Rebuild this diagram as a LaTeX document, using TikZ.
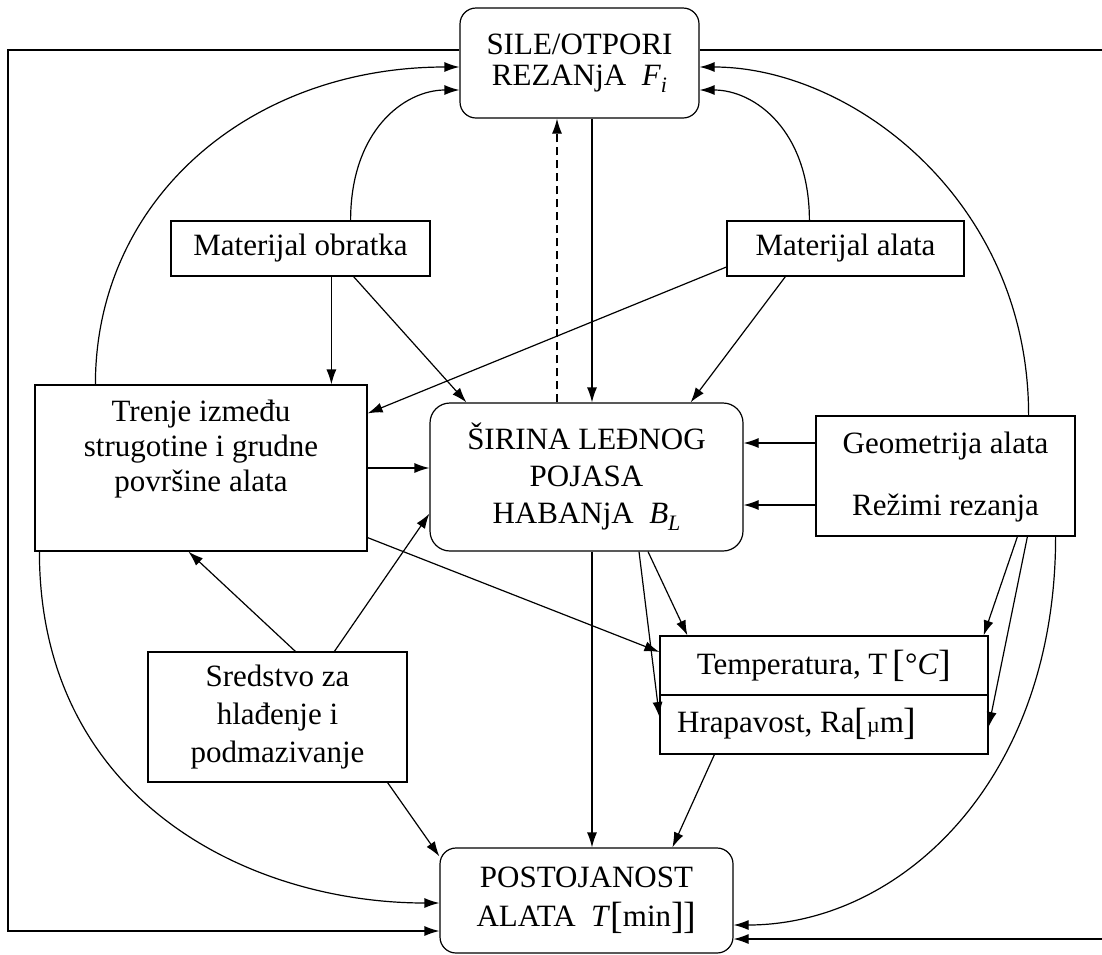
\documentclass[tikz,border=0pt]{standalone}
\usepackage{fontspec}
\setmainfont{Liberation Serif}
\usetikzlibrary{arrows.meta,calc}
\newcommand{\mysub}[1]{\raisebox{-7pt}{\fontsize{22}{22}\selectfont\textit{#1}}}
\newcommand{\bbr}[1]{\raisebox{-2pt}{\fontsize{38}{38}\selectfont #1}}
\begin{document}
\begin{tikzpicture}[x=1pt,y=-1pt,
  box/.style={draw, line width=1.2pt, inner sep=0pt, align=center, font=\fontsize{31}{36}\selectfont},
  rbox/.style={box, rounded corners=16pt},
  txt/.style={inner sep=0pt, align=center, font=\fontsize{31}{36}\selectfont},
  conn/.style={line width=1.2pt, -{Latex[length=15pt,width=10pt]}},
  plain/.style={line width=1.2pt}
]
\useasboundingbox (0,0) rectangle (1102,954);

% boxes
\node[rbox, minimum width=239pt, minimum height=110pt, font=\fontsize{31}{31}\selectfont] (top) at (579.5,63) {SILE/OTPORI\\REZANjA~~\textit{F}\mysub{i}};
\node[box, minimum width=259pt, minimum height=55pt] (obr) at (300.5,248.5) {Materijal obratka};
\node[box, minimum width=237pt, minimum height=55pt] (ala) at (845.5,248.5) {Materijal alata};
\node[box, minimum width=332pt, minimum height=166pt] (tre) at (201,468) {};
\node[txt, anchor=north, font=\fontsize{31}{35}\selectfont] (treT) at (201,400) {Trenje između\\strugotine i grudne\\površine alata};
\node[rbox, minimum width=313pt, minimum height=148pt, rounded corners=20pt, font=\fontsize{31}{37}\selectfont] (cen) at (586.5,477) {ŠIRINA LEĐNOG\\POJASA\\HABANjA~~\textit{B}\mysub{L}};
\node[box, minimum width=259pt, minimum height=120pt] (geo) at (945.5,476) {};
\node[txt, anchor=base] (geoA) at (945.5,453) {Geometrija alata};
\node[txt, anchor=base] (geoB) at (945.5,515) {Režimi rezanja};
\node[box, minimum width=328pt, minimum height=59pt] (temp) at (824,665.5) {Temperatura, T\,\bbr{[}°\textit{C}\bbr{]}};
\node[box, minimum width=328pt, minimum height=59pt] (hra) at (824,724.5) {};
\node[txt, anchor=base west] (hraT) at (677,732) {Hrapavost, Ra\bbr{[}{\fontsize{22}{22}\selectfont µ}m\bbr{]}};
\node[box, minimum width=259pt, minimum height=130pt, font=\fontsize{31}{38}\selectfont] (sre) at (277.5,717) {Sredstvo za\\hlađenje i\\podmazivanje};
\node[rbox, minimum width=293pt, minimum height=105pt, font=\fontsize{31}{39}\selectfont] (bot) at (586.5,900.5) {POSTOJANOST\\ALATA~~\textit{T}\bbr{[}min\bbr{]]}};

% vertical x positions
\coordinate (vx) at (592,0);
\coordinate (dx) at (557,0);

% curves to top box
\draw[conn] ($(tre.north west)+(61,0)$) .. controls +(0,-185) and +(-210,0) .. ($(top.west)+(0,4)$);
\draw[conn] ($(obr.north east)+(-80,0)$) .. controls +(0,-90) and +(-55,0) .. ($(top.west)+(0,27)$);
\draw[conn] ($(ala.north west)+(83,0)$) .. controls +(0,-90) and +(55,0) .. ($(top.east)+(0,27)$);
\draw[conn] ($(geo.north east)+(-47,0)$) .. controls +(0,-216) and +(151,0) .. ($(top.east)+(0,4)$);

% outer frame lines
\draw[conn] ($(top.west)+(0,-13)$) -- (8,50) -- (8,931) -- ($(bot.west)+(0,30.5)$);
\draw[conn] ($(top.east)+(0,-13)$) -- (1104,50) -- (1104,939) -- ($(bot.east)+(0,38.5)$);

% top <-> center
\draw[conn] (top.south -| vx) -- (cen.north -| vx);
\draw[conn, dash pattern=on 8pt off 5pt] (cen.north -| dx) -- (top.south -| dx);

% materials
\draw[conn] ($(obr.south west)+(161,0)$) -- ($(tre.north west)+(297,0)$);
\draw[conn] ($(obr.south east)+(-77,0)$) -- ($(cen.north west)+(37,0)$);
\draw[conn] ($(ala.west)+(0,18.5)$) -- ($(tre.north east)+(0,29)$);
\draw[conn] ($(ala.south west)+(59,0)$) -- ($(cen.north east)+(-53,0)$);

% into center
\draw[conn] (tre.east) -- (tre.east -| cen.west);
\draw[conn] ($(geo.west)+(0,-33)$) -- ($(cen.east)+(0,-34)$);
\draw[conn] ($(geo.west)+(0,29)$) -- ($(cen.east)+(0,28)$);

% to temperature / roughness
\draw[conn] ($(tre.south east)+(0,-14)$) -- ($(temp.west)+(0,-13.5)$);
\draw[conn] ($(cen.south)+(61.5,0)$) -- ($(temp.north west)+(28,0)$);
\draw[conn] ($(cen.south)+(52.5,0)$) -- ($(hra.west)+(0,-7.5)$);
\draw[conn] ($(geo.south west)+(202,0)$) -- ($(temp.north east)+(-5,0)$);
\draw[conn] ($(geo.south west)+(212,0)$) -- ($(hra.east)+(0,2.5)$);

% to bottom
\draw[conn] (cen.south -| vx) -- (bot.north -| vx);
\draw[conn] ($(hra.south west)+(55,0)$) -- ($(bot.north west)+(233,0)$);
\draw[conn] ($(sre.south east)+(-20,0)$) -- ($(bot.north west)+(0,9)$);
\draw[conn] ($(tre.south west)+(5,0)$) .. controls +(0,249) and +(-190,0) .. ($(bot.west)+(0,2.5)$);
\draw[conn] ($(geo.south east)+(-20,0)$) .. controls +(0,244) and +(167,0) .. ($(bot.east)+(0,24.5)$);

% coolant
\draw[conn] ($(sre.north west)+(148,0)$) -- ($(tre.south west)+(154,0)$);
\draw[conn] ($(sre.north west)+(187,0)$) -- ($(cen.south west)+(0,-38)$);
\end{tikzpicture}
\end{document}
